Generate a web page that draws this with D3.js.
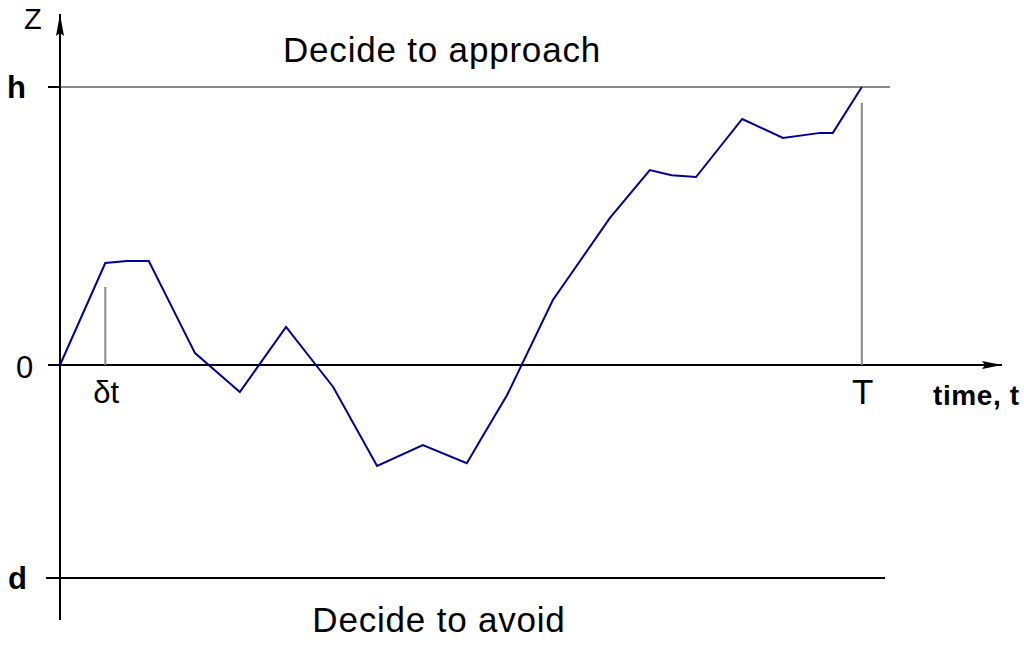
<!DOCTYPE html>
<html><head><meta charset="utf-8">
<script src="https://cdn.jsdelivr.net/npm/d3@7"></script>
<style>body{margin:0;background:#fff}svg{display:block}text{font-family:"Liberation Sans",Arial,sans-serif}</style>
</head><body><svg id="c" width="1024" height="647"></svg>
<script>
// time in units of δt, z normalised so that h = 1
const times = [0,1.0,1.48,1.96,2.98,3.97,4.99,6.03,7.0,8.01,8.98,9.32,9.87,10.88,12.14,13.02,13.5,14.04,15.06,15.96,16.78,17.06,17.7];
const zVals = [0,0.367,0.374,0.374,0.043,-0.097,0.137,-0.079,-0.363,-0.288,-0.353,-0.259,-0.108,0.234,0.529,0.701,0.683,0.676,0.885,0.817,0.835,0.835,1.0];
const hVal = 1.0, dVal = -0.766, dtVal = 1, TVal = 17.7;
const yTickLabels = ["h","0","d"];

const svg = d3.select("#c");
const x = d3.scaleLinear().domain([0, 20]).range([60, 966]);
const y = d3.scaleLinear().domain([dVal, hVal]).range([578, 87]);

// h line (gray) and tick
svg.append("line").attr("x1",48).attr("x2",60).attr("y1",y(hVal)).attr("y2",y(hVal)).attr("stroke","#000").attr("stroke-width",2);
svg.append("line").attr("x1",60).attr("x2",890).attr("y1",y(hVal)).attr("y2",y(hVal)).attr("stroke","#888").attr("stroke-width",2);
// d line
svg.append("line").attr("x1",46).attr("x2",885).attr("y1",y(dVal)).attr("y2",y(dVal)).attr("stroke","#000").attr("stroke-width",2);
// x axis
svg.append("line").attr("x1",48).attr("x2",1002).attr("y1",y(0)).attr("y2",y(0)).attr("stroke","#000").attr("stroke-width",2);
svg.append("path").attr("d",`M1002,${y(0)} L982,${y(0)-4} L985,${y(0)} L982,${y(0)+4} Z`).attr("fill","#000");
// y axis
svg.append("line").attr("x1",60).attr("x2",60).attr("y1",14).attr("y2",620).attr("stroke","#000").attr("stroke-width",2);
svg.append("path").attr("d",`M60,14 L56,36 L60,33 L64,36 Z`).attr("fill","#000");

// gray markers at δt and T
svg.append("line").attr("x1",x(dtVal)).attr("x2",x(dtVal)).attr("y1",287).attr("y2",y(0)).attr("stroke","#888").attr("stroke-width",2);
svg.append("line").attr("x1",x(TVal)).attr("x2",x(TVal)).attr("y1",103).attr("y2",y(0)).attr("stroke","#888").attr("stroke-width",2);

// path
const pts = times.map((t,i)=>[t,zVals[i]]);
svg.append("path").datum(pts)
  .attr("d", d3.line().x(d=>x(d[0])).y(d=>y(d[1])))
  .attr("fill","none").attr("stroke","#000099").attr("stroke-width",2);

// labels
svg.append("text").attr("x",24).attr("y",29).attr("font-size",29).text("Z");
svg.append("text").attr("x",7).attr("y",y(hVal)+11).attr("font-size",31).attr("font-weight","bold").text(yTickLabels[0]);
svg.append("text").attr("x",16).attr("y",y(0)+13).attr("font-size",31).text(yTickLabels[1]);
svg.append("text").attr("x",8).attr("y",y(dVal)+11).attr("font-size",31).attr("font-weight","bold").text(yTickLabels[2]);
svg.append("text").attr("x",x(dtVal)+1).attr("y",403).attr("font-size",31).attr("text-anchor","middle").text("δt");
svg.append("text").attr("x",x(TVal)+1).attr("y",404).attr("font-size",35).attr("text-anchor","middle").text("T");
svg.append("text").attr("x",933).attr("y",405).attr("font-size",28).attr("font-weight","bold").attr("textLength",86).text("time, t");
svg.append("text").attr("x",442).attr("y",62).attr("font-size",35).attr("letter-spacing",0.8).attr("text-anchor","middle").text("Decide to approach");
svg.append("text").attr("x",439).attr("y",632).attr("font-size",35).attr("letter-spacing",0.8).attr("text-anchor","middle").text("Decide to avoid");
</script></body></html>
